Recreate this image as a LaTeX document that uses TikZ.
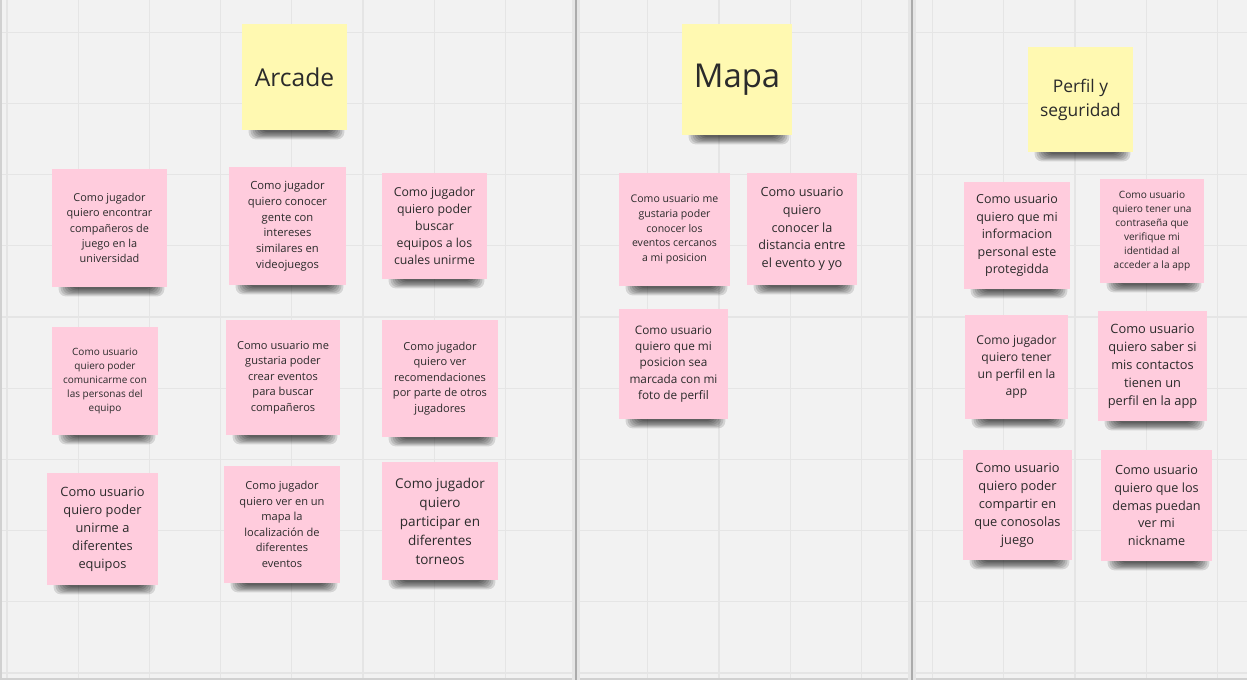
\documentclass[tikz,border=0pt]{standalone}
\usepackage{fontspec}
\setmainfont{Open Sans}
\usetikzlibrary{backgrounds,calc}
\definecolor{fondo}{HTML}{F2F2F2}
\definecolor{rejilla}{HTML}{E5E5E5}
\definecolor{rosa}{HTML}{FFCCDD}
\definecolor{amarillo}{HTML}{FFF9B1}
\definecolor{texto}{HTML}{2B2B2B}
\definecolor{borde}{HTML}{ABABAB}
\tikzset{
  nota/.style={fill=rosa, text=texto, align=center, inner sep=0pt},
  titulo/.style={nota, fill=amarillo},
  sombra/.style={fill=black, fill opacity=0.12, rounded corners=4pt},
  tam/.style 2 args={minimum width=#1*0.02cm, minimum height=#2*0.02cm},
  letra/.style 2 args={font=\fontsize{#1pt}{#2pt}\selectfont},
}
\begin{document}
\begin{tikzpicture}[x=0.02cm, y=-0.02cm, line join=round, line cap=round]
  \useasboundingbox (0,0) rectangle (1247,680);
  \begin{scope}[on background layer]
    \fill[fondo] (0,0) rectangle (1247,680);
    \foreach \i in {0,...,17} \draw[rejilla, line width=0.6pt] ({7+71.2*\i},0) -- ({7+71.2*\i},680);
    \foreach \j in {0,...,9} \draw[rejilla, line width=0.6pt] (0,{32.2+71.2*\j}) -- (1247,{32.2+71.2*\j});
    \draw[black!18, line width=0.8pt] (1,0) -- (1,679) -- (1247,679);
    \foreach \xd in {576,912} {
      \fill[black!10] (\xd-4,0) rectangle (\xd+4,680);
      \draw[borde, line width=1.2pt] (\xd,0) -- (\xd,680);
    }
  \end{scope}
  % titulos
  \node[titulo, tam={105}{106}, letra={14}{18}] (arcade) at (294.5,77) {Arcade};
  \node[titulo, tam={110}{111}, letra={18.7}{24}] (mapa) at (737,79.5) {Mapa};
  \node[titulo, tam={105}{105}, letra={9.9}{13.6}] (perfil) at (1080.5,99.5) {Perfil y\\seguridad};
  % Arcade
  \node[nota, tam={115}{118}, letra={6.2}{8.65}] (a1) at (109.5,228) {Como jugador\\quiero encontrar\\compañeros de\\juego en la\\universidad};
  \node[nota, tam={117}{118}, letra={6.4}{8.96}] (a2) at (287.5,226) {Como jugador\\quiero conocer\\gente con\\intereses\\similares en\\videojuegos};
  \node[nota, tam={105}{106}, letra={7.0}{9.78}] (a3) at (434.5,226) {Como jugador\\quiero poder\\buscar\\equipos a los\\cuales unirme};
  \node[nota, tam={106}{108}, letra={5.7}{7.94}] (a4) at (105,381) {Como usuario\\quiero poder\\comunicarme con\\las personas del\\equipo};
  \node[nota, tam={114}{115}, letra={6.3}{8.79}] (a5) at (283,377.5) {Como usuario me\\gustaria poder\\crear eventos\\para buscar\\compañeros};
  \node[nota, tam={116}{117}, letra={6.3}{8.79}] (a6) at (440,378.5) {Como jugador\\quiero ver\\recomendaciones\\por parte de otros\\jugadores};
  \node[nota, tam={111}{112}, letra={7.3}{10.2}] (a7) at (102.5,529) {Como usuario\\quiero poder\\unirme a\\diferentes\\equipos};
  \node[nota, tam={116}{117}, letra={6.3}{8.85}] (a8) at (282,524.5) {Como jugador\\quiero ver en un\\mapa la\\localización de\\diferentes\\eventos};
  \node[nota, tam={116}{118}, letra={7.7}{10.8}] (a9) at (440,521) {Como jugador\\quiero\\participar en\\diferentes\\torneos};
  % Mapa
  \node[nota, tam={111}{113}, letra={6.0}{8.36}] (m1) at (674.5,229.5) {Como usuario me\\gustaria poder\\conocer los\\eventos cercanos\\a mi posicion};
  \node[nota, tam={110}{112}, letra={7.2}{10.06}] (m2) at (802,229) {Como usuario\\quiero\\conocer la\\distancia entre\\el evento y yo};
  \node[nota, tam={109}{110}, letra={6.7}{9.36}] (m3) at (673.5,364) {Como usuario\\quiero que mi\\posicion sea\\marcada con mi\\foto de perfil};
  % Perfil y seguridad
  \node[nota, tam={106}{107}, letra={7.1}{9.92}] (p1) at (1017,235.5) {Como usuario\\quiero que mi\\informacion\\personal este\\protegidda};
  \node[nota, tam={104}{104}, letra={5.75}{8.05}] (p2) at (1152,231) {Como usuario\\quiero tener una\\contraseña que\\verifique mi\\identidad al\\acceder a la app};
  \node[nota, tam={103}{104}, letra={6.9}{9.64}] (p3) at (1016.5,367) {Como jugador\\quiero tener\\un perfil en la\\app};
  \node[nota, tam={109}{110}, letra={7.3}{10.2}] (p4) at (1152.5,366) {Como usuario\\quiero saber si\\mis contactos\\tienen un\\perfil en la app};
  \node[nota, tam={109}{110}, letra={7.3}{10.2}] (p5) at (1017.5,505) {Como usuario\\quiero poder\\compartir en\\que conosolas\\juego};
  \node[nota, tam={111}{111}, letra={7.2}{10.06}] (p6) at (1156.5,505.5) {Como usuario\\quiero que los\\demas puedan\\ver mi\\nickname};
  % sombras
  \begin{scope}[on background layer]
    \foreach \n in {arcade,mapa,perfil,a1,a2,a3,a4,a5,a6,a7,a8,a9,m1,m2,m3,p1,p2,p3,p4,p5,p6}
      \foreach \k in {0,...,6}
        \fill[sombra] ($(\n.south west)+(7+2*\k,-10)$) rectangle ($(\n.south east)+(-3-2*\k,9-1.2*\k)$);
  \end{scope}
\end{tikzpicture}
\end{document}
